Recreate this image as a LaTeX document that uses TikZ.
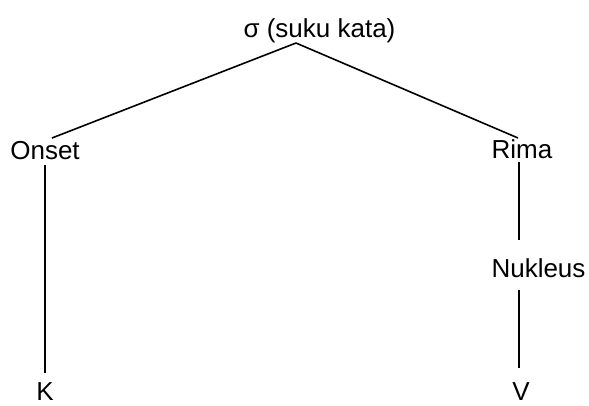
\documentclass[tikz,border=0pt]{standalone}
\usepackage{fontspec}
\setmainfont{Liberation Sans}
\begin{document}
\begin{tikzpicture}[x=1pt,y=-1pt,
  lbl/.style={anchor=base,inner sep=0pt,font=\fontsize{26}{30}\selectfont},
  conn/.style={line width=1.6pt}]
\useasboundingbox[fill=white] (0,0) rectangle (589,405);
\node[lbl] (sigma) at (319.5,37) {σ (suku kata)};
\node[lbl] (onset) at (45,159) {Onset};
\node[lbl] (rima) at (522,158) {Rima};
\node[lbl] (nukleus) at (538.5,277) {Nukleus};
\node[lbl] (k) at (45,400) {K};
\node[lbl] (v) at (521,400) {V};
% connector ends
\coordinate (apex) at (296,43);
\coordinate (onsetTop) at (52,138);
\coordinate (rimaTop) at (518,138);
\coordinate (onsetBot) at (45,165);
\coordinate (kTop) at (45,373);
\coordinate (rimaBot) at (519,162);
\coordinate (nukTop) at (519,240);
\coordinate (nukBot) at (519,290);
\coordinate (vTop) at (519,368);
\draw[conn] (apex) -- (onsetTop);
\draw[conn] (apex) -- (rimaTop);
\draw[conn] (onsetBot) -- (kTop);
\draw[conn] (rimaBot) -- (nukTop);
\draw[conn] (nukBot) -- (vTop);
\end{tikzpicture}
\end{document}
